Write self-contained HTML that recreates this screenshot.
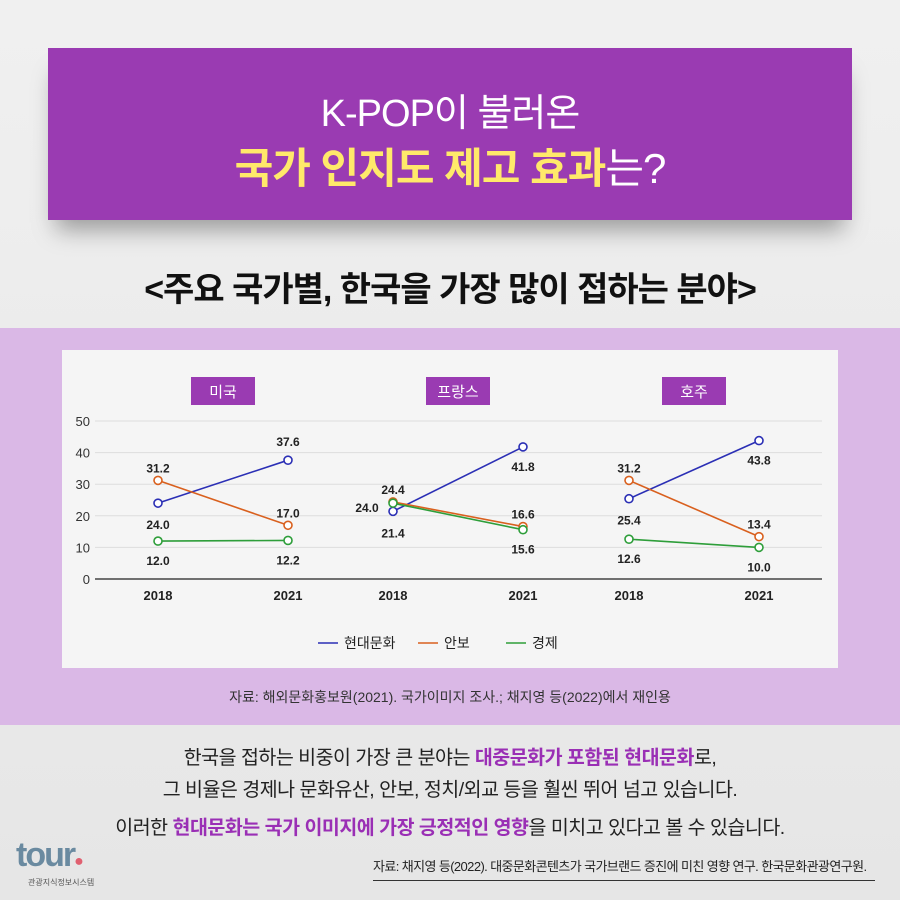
<!DOCTYPE html>
<html><head><meta charset="utf-8">
<style>
body{margin:0;width:900px;height:900px;overflow:hidden;font-family:"Liberation Sans","Noto Sans CJK KR",sans-serif;background:linear-gradient(#f0f0f0,#e6e6e6);}
#root{position:relative;width:900px;height:900px;}
.abs{position:absolute;}
</style></head><body>
<div id="root">
<div class="abs" style="left:48px;top:48px;width:804px;height:172px;background:#9a3bb2;box-shadow:0 18px 22px -8px rgba(0,0,0,0.35);"></div>
<div class="abs" style="left:48px;top:82px;width:804px;text-align:center;color:#fff;font-size:38px;letter-spacing:-1px;">K-POP이 불러온</div>
<div class="abs" style="left:48px;top:135px;width:804px;text-align:center;font-size:42px;font-weight:bold;color:#ffe96a;letter-spacing:-1px;">국가 인지도 제고 효과<span style="color:#fff;font-weight:normal">는?</span></div>
<div class="abs" style="left:0;top:262px;width:900px;text-align:center;font-size:34px;font-weight:bold;color:#111;letter-spacing:-1px;">&lt;주요 국가별, 한국을 가장 많이 접하는 분야&gt;</div>
<div class="abs" style="left:0;top:328px;width:900px;height:397px;background:#dab8e6;"></div>
<div class="abs" style="left:62px;top:350px;width:776px;height:318px;background:#f5f5f5;"></div>
<svg class="abs" style="left:0;top:0" width="900" height="900" id="chart"></svg>
<div class="abs" style="left:0;top:687px;width:900px;text-align:center;font-size:14px;color:#333;">자료: 해외문화홍보원(2021). 국가이미지 조사.; 채지영 등(2022)에서 재인용</div>
<div class="abs" style="left:0;top:742px;width:900px;text-align:center;font-size:19.5px;line-height:32px;color:#222;letter-spacing:-0.5px;">
한국을 접하는 비중이 가장 큰 분야는 <b style="color:#9a2fb5">대중문화가 포함된 현대문화</b>로,<br>
그 비율은 경제나 문화유산, 안보, 정치/외교 등을 훨씬 뛰어 넘고 있습니다.<br>
<span style="display:inline-block;margin-top:6px">이러한 <b style="color:#9a2fb5">현대문화는 국가 이미지에 가장 긍정적인 영향</b>을 미치고 있다고 볼 수 있습니다.</span></div>
<div class="abs" style="left:16px;top:836px;font-size:34px;font-weight:bold;color:#6a8aa0;letter-spacing:-2px;">tour<span style="color:#e06070;font-size:16px">●</span></div>
<div class="abs" style="left:28px;top:877px;font-size:8px;color:#555;">관광지식정보시스템</div>
<div class="abs" style="left:373px;top:856px;width:502px;white-space:nowrap;font-size:13px;color:#222;border-bottom:1.5px solid #333;padding-bottom:5px;letter-spacing:-0.6px;">자료: 채지영 등(2022). 대중문화콘텐츠가 국가브랜드 증진에 미친 영향 연구. 한국문화관광연구원.</div>
</div>
<script>
const countries=["미국","프랑스","호주"];
const years=["2018","2021"];
const seriesNames=["현대문화","안보","경제"];
const modern=[[24.0,37.6],[21.4,41.8],[25.4,43.8]];
const security=[[31.2,17.0],[24.4,16.6],[31.2,13.4]];
const economy=[[12.0,12.2],[24.0,15.6],[12.6,10.0]];
const yTicks=[0,10,20,30,40,50];
const colors=["#2b2fb5","#d9601e","#2e9e3a"];
const svg=document.getElementById('chart');const NS="http://www.w3.org/2000/svg";
function y(v){return 579-v*3.16;}
const panelX=[[158,288],[393,523],[629,759]];
function x(p,i){return panelX[p][i];}
function mk(t,a,txt){const e=document.createElementNS(NS,t);for(const k in a)e.setAttribute(k,a[k]);if(txt!=null)e.textContent=txt;svg.appendChild(e);return e;}
yTicks.forEach(t=>{
 const g=mk('line',{x1:95,x2:822,y1:y(t),y2:y(t),stroke:t==0?'#444':'#ddd','stroke-width':t==0?1.5:1});
 
 
 const l=mk('text',{x:90,y:y(t)+5,'text-anchor':'end','font-size':13,fill:'#333'},t);
 
 
});
const allSeries=[modern,security,economy];
const off=[
 [[[0,22],[0,-18]],[[0,-12],[0,-12]],[[0,20],[0,20]]],
 [[[0,22],[0,20]],[[0,-12],[0,-12]],[[-26,5],[0,20]]],
 [[[0,22],[0,20]],[[0,-12],[0,-12]],[[0,20],[0,20]]]];
countries.forEach((c,p)=>{
 const cx=(x(p,0)+x(p,1))/2;
 const r=mk('rect',{x:cx-32,y:377,width:64,height:28,fill:'#9a3bb2'});
 
 
 const ct=mk('text',{x:cx,y:397,'text-anchor':'middle','font-size':15,fill:'#fff'},c);
 
 
 years.forEach((yr,i)=>{const t=mk('text',{x:x(p,i),y:600,'text-anchor':'middle','font-size':13,'font-weight':'bold',fill:'#222'},yr);
  
  });
 allSeries.forEach((s,si)=>{
  const ln=mk('line',{x1:x(p,0),y1:y(s[p][0]),x2:x(p,1),y2:y(s[p][1]),stroke:colors[si],'stroke-width':1.6});
  
  
 });
 allSeries.forEach((s,si)=>{
  s[p].forEach((v,i)=>{
   const pt=mk('circle',{cx:x(p,i),cy:y(v),r:4,fill:'#fff',stroke:colors[si],'stroke-width':1.6});
   
   
   const o=off[p][si][i];
   const lb=mk('text',{x:x(p,i)+o[0],y:y(v)+o[1]+4,'text-anchor':'middle','font-size':12,'font-weight':'bold',fill:'#222'},v.toFixed(1));
   
   
  });
 });
});
const lx=[318,418,506];
seriesNames.forEach((n,i)=>{
 const l=mk('line',{x1:lx[i],x2:lx[i]+20,y1:643,y2:643,stroke:colors[i],'stroke-width':1.6});
 
 
 const t=mk('text',{x:lx[i]+26,y:648,'font-size':14,fill:'#222'},n);
 
 
});
</script>
</body></html>
